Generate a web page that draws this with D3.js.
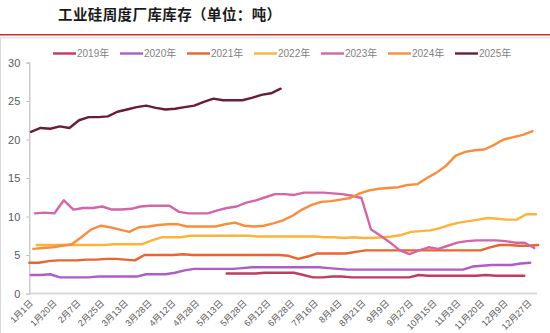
<!DOCTYPE html>
<html><head><meta charset="utf-8">
<script src="https://cdn.jsdelivr.net/npm/d3@7/dist/d3.min.js"></script>
<style>
html,body{margin:0;padding:0;background:#fff;}
svg{display:block;font-family:"Liberation Sans","Noto Sans CJK SC",sans-serif;}
</style></head>
<body>
<svg id="chart" width="550" height="333"></svg>
<script>
const title = "工业硅周度厂库库存（单位：吨）";
const tickLabels = ["1月1日","1月20日","2月7日","2月25日","3月13日","3月28日","4月12日","4月28日","5月13日","5月28日","6月12日","6月28日","7月16日","8月4日","8月21日","9月9日","9月27日","10月15日","11月3日","11月20日","12月9日","12月27日"];
const yTicks = [0,5,10,15,20,25,30];
const seriesNames = ["2019年","2020年","2021年","2022年","2023年","2024年","2025年"];
const seriesColors = ["#C23A5E","#AE5CC8","#E8652D","#FDB33A","#D465A6","#FA8C3C","#6C1B3A"];
// start week of each series (fractional, week index of first point)
const seriesStart = [20.56, 0.18, 0, 0.77, 0.6, 0.42, 0.18];

const v2019 = [2.6,2.6,2.6,2.6,2.7,2.7,2.7,2.7,2.4,2.1,2.1,2.2,2.2,2.1,2.1,2.1,2.1,2.1,2.1,2.1,2.4,2.3,2.3,2.3,2.3,2.3,2.3,2.4,2.3,2.3,2.3,2.3];
const v2020 = [2.4,2.4,2.5,2.1,2.1,2.1,2.1,2.2,2.2,2.2,2.2,2.2,2.5,2.5,2.5,2.7,3.0,3.2,3.2,3.2,3.2,3.2,3.3,3.4,3.4,3.4,3.4,3.4,3.4,3.4,3.4,3.3,3.2,3.1,3.1,3.1,3.1,3.1,3.1,3.1,3.1,3.1,3.1,3.1,3.1,3.1,3.5,3.6,3.7,3.7,3.7,3.9,4.0];
const v2021 = [4.0,4.0,4.2,4.3,4.3,4.3,4.4,4.4,4.5,4.5,4.4,4.3,5.0,5.0,5.0,5.0,5.1,5.0,5.0,5.0,5.0,5.0,5.0,5.0,5.0,5.0,5.0,4.9,4.5,4.8,5.2,5.2,5.2,5.2,5.4,5.6,5.6,5.6,5.6,5.6,5.6,5.6,5.6,5.6,5.6,5.6,5.6,5.6,6.0,6.3,6.3,6.2,6.2,6.3];
const v2022 = [6.3,6.3,6.3,6.3,6.3,6.3,6.3,6.3,6.4,6.4,6.4,6.4,6.9,7.3,7.3,7.3,7.5,7.5,7.5,7.5,7.5,7.5,7.5,7.4,7.4,7.4,7.4,7.4,7.4,7.4,7.3,7.3,7.2,7.3,7.2,7.2,7.3,7.4,7.6,8.0,8.1,8.2,8.5,8.9,9.2,9.4,9.6,9.8,9.7,9.6,9.6,10.3,10.3];
const v2023 = [10.4,10.5,10.4,12.1,10.9,11.1,11.1,11.3,10.9,10.9,11.0,11.3,11.4,11.4,11.4,10.6,10.4,10.4,10.4,10.8,11.1,11.3,11.8,12.1,12.5,12.9,12.9,12.8,13.1,13.1,13.1,13.0,12.9,12.7,12.4,8.3,7.5,6.6,5.6,5.1,5.6,6.0,5.8,6.2,6.6,6.8,6.9,6.9,6.9,6.8,6.6,6.6,5.9];
const v2024 = [5.8,5.9,6.0,6.2,6.4,7.3,8.3,8.8,8.6,8.3,8.0,8.6,8.7,8.9,9.0,9.0,8.7,8.7,8.7,8.7,9.0,9.2,8.8,8.7,8.8,9.1,9.5,10.1,10.9,11.5,11.9,12.0,12.2,12.4,13.0,13.4,13.6,13.7,13.8,14.1,14.2,15.0,15.7,16.6,17.9,18.4,18.6,18.7,19.3,20.0,20.3,20.6,21.1];
const v2025 = [21.0,21.5,21.4,21.7,21.5,22.5,22.9,22.9,23.0,23.6,23.9,24.2,24.4,24.1,23.9,24.0,24.2,24.4,24.9,25.3,25.1,25.1,25.1,25.4,25.8,26.0,26.6];
const seriesValues = [v2019,v2020,v2021,v2022,v2023,v2024,v2025];

const svg = d3.select("#chart");

// header
svg.append("text").attr("x",58).attr("y",20)
  .attr("font-family","'Noto Sans CJK SC',sans-serif").attr("font-weight","bold")
  .attr("font-size",14.5).attr("letter-spacing",0.4).attr("fill","#1a1a1a").text(title);
svg.append("line").attr("x1",0).attr("x2",550).attr("y1",34.8).attr("y2",34.8)
  .attr("stroke","#D42A2A").attr("stroke-width",1.6);
svg.append("line").attr("x1",0).attr("x2",550).attr("y1",37.8).attr("y2",37.8)
  .attr("stroke","#D9D9D9").attr("stroke-width",1);
svg.append("line").attr("x1",0.5).attr("x2",0.5).attr("y1",37.8).attr("y2",333)
  .attr("stroke","#D9D9D9").attr("stroke-width",1);

const x = d3.scaleLinear().domain([0,53]).range([29.3,538.1]);
const y = d3.scaleLinear().domain([0,30]).range([293.5,62.5]);
const xLab = d3.scalePoint().domain(tickLabels).range([29.5,528]);

// y axis
const yAxis = svg.append("g").attr("transform","translate(29.3,0)")
  .call(d3.axisLeft(y).tickValues(yTicks).tickSize(3).tickPadding(6));
yAxis.select(".domain").attr("stroke","#BFBFBF").attr("stroke-width",1.2);
yAxis.selectAll(".tick line").attr("stroke","#BFBFBF");
yAxis.selectAll(".tick text").attr("fill","#595959").attr("font-size",11)
  .attr("font-family","'Liberation Sans',sans-serif");

// x axis line
svg.append("line").attr("x1",29.3).attr("x2",537).attr("y1",y(0)).attr("y2",y(0))
  .attr("stroke","#D9D9D9").attr("stroke-width",2);

// x labels
svg.append("g").selectAll("text").data(tickLabels).join("text")
  .attr("transform",d=>`translate(${xLab(d)+2},${y(0)+8}) rotate(-45)`)
  .attr("text-anchor","end").attr("dy","0.35em")
  .attr("font-size",9).attr("fill","#595959")
  .attr("font-family","'Liberation Sans','Noto Sans CJK SC',sans-serif")
  .text(d=>d);

// lines
const line = d3.line().x(d=>x(d[0])).y(d=>y(d[1]));
seriesValues.forEach((vals,i)=>{
  const pts = vals.map((v,k)=>[seriesStart[i]+k, v]);
  svg.append("path").datum(pts).attr("d",line)
    .attr("fill","none").attr("stroke",seriesColors[i])
    .attr("stroke-width",2.4).attr("stroke-linejoin","round").attr("stroke-linecap","round");
});

// legend
const lg = svg.append("g").selectAll("g").data(seriesNames).join("g")
  .attr("transform",(d,i)=>`translate(${53+i*67},53.5)`);
lg.append("line").attr("x1",0).attr("x2",23).attr("y1",0).attr("y2",0)
  .attr("stroke",(d,i)=>seriesColors[i]).attr("stroke-width",2.4);
lg.append("text").attr("x",24).attr("y",0).attr("dy","0.35em")
  .attr("font-size",10).attr("fill","#7F7F7F")
  .attr("font-family","'Liberation Sans','Noto Sans CJK SC',sans-serif")
  .text(d=>d);
</script>
</body></html>
